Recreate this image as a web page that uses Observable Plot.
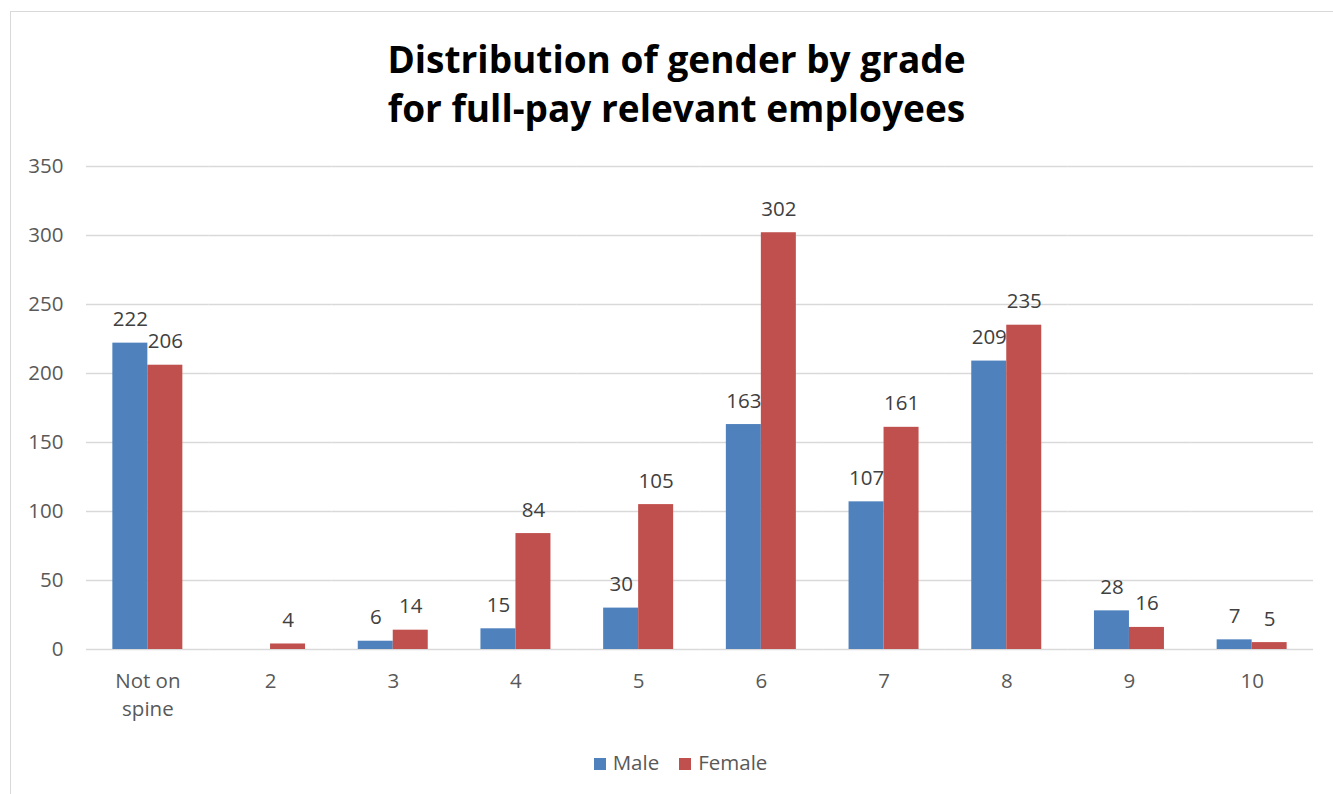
<!DOCTYPE html>
<html>
<head>
<meta charset="utf-8">
<script src="https://cdn.jsdelivr.net/npm/d3@7"></script>
<script src="https://cdn.jsdelivr.net/npm/@observablehq/plot@0.6"></script>
<style>
  html, body { margin: 0; padding: 0; background: #fff; }
  #wrap { position: relative; width: 1333px; height: 794px; overflow: hidden; font-family: "Open Sans", sans-serif; }
  #frame { position: absolute; left: 10px; top: 11px; width: 1340px; height: 800px; border: 1.5px solid #d9d9d9; box-sizing: border-box; }
  #title { position: absolute; left: 0; top: 34px; width: 1353px; text-align: center; font-weight: 700; font-size: 37px; line-height: 49px; color: #000; }
  #chart { position: absolute; left: 0; top: 140px; }
  #legend { position: absolute; top: 748px; left: 0; width: 1361px; text-align: center; font-size: 20.5px; color: #595959; }
  .sw { display: inline-block; width: 12px; height: 12px; margin-right: 7px; vertical-align: 0px; }
  .item { display: inline-block; margin: 0 10px; }
</style>
</head>
<body>
<div id="wrap">
  <div id="frame"></div>
  <div id="title">Distribution of gender by grade<br>for full-pay relevant employees</div>
  <div id="chart"></div>
  <div id="legend"></div>
</div>
<script>
const grades = ["Not on spine", "2", "3", "4", "5", "6", "7", "8", "9", "10"];
const male   = [222, null, 6, 15, 30, 163, 107, 209, 28, 7];
const female = [206, 4, 14, 84, 105, 302, 161, 235, 16, 5];
const series = ["Male", "Female"];
const colors = ["#4f81bd", "#c0504d"];
const yTicks = [0, 50, 100, 150, 200, 250, 300, 350];

const rows = [];
grades.forEach((g, i) => {
  if (male[i] != null) rows.push({grade: g, gender: "Male", value: male[i]});
  if (female[i] != null) rows.push({grade: g, gender: "Female", value: female[i]});
});

const chart = Plot.plot({
  width: 1333,
  height: 590,
  marginTop: 26,
  marginBottom: 81,
  marginLeft: 86,
  marginRight: 20,
  style: {fontFamily: "Open Sans", fontSize: "20.5px", color: "#595959", background: "transparent"},
  fx: {domain: grades, padding: 0, round: false, label: null},
  x: {domain: series, axis: null, paddingInner: 0, paddingOuter: 0.753, round: false},
  y: {domain: [0, 350], label: null},
  color: {domain: series, range: colors},
  marks: [
    Plot.gridY(yTicks, {stroke: "#d9d9d9", strokeOpacity: 1, strokeWidth: 1.4}),
    Plot.barY(rows, {fx: "grade", x: "gender", y: "value", fill: "gender"}),
    Plot.text(rows, {fx: "grade", x: "gender", y: "value", text: d => String(d.value), lineAnchor: "bottom", dy: -17, fill: "#404040", fontSize: 20.5}),
    Plot.axisY(yTicks, {tickSize: 0, tickPadding: 23, label: null, fill: "#595959", fontSize: 20.5}),
    Plot.axisFx({anchor: "bottom", tickSize: 0, tickPadding: 19, label: null, lineHeight: 1.35, fill: "#595959", fontSize: 20.5,
      tickFormat: d => d === "Not on spine" ? "Not on\nspine" : d})
  ]
});
document.getElementById("chart").appendChild(chart);

const legend = document.getElementById("legend");
series.forEach((s, i) => {
  const item = document.createElement("span");
  item.className = "item";
  const sw = document.createElement("span");
  sw.className = "sw";
  sw.style.background = colors[i];
  item.appendChild(sw);
  item.appendChild(document.createTextNode(s));
  legend.appendChild(item);
});
</script>
</body>
</html>
